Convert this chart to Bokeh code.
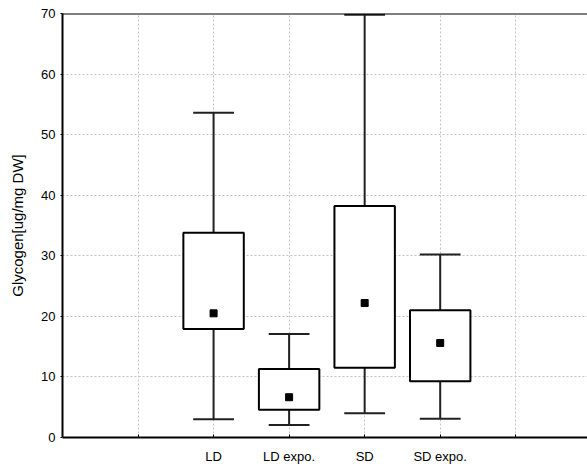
from bokeh.plotting import figure
from bokeh.models import FixedTicker, Span
from bokeh.embed import file_html
from bokeh.resources import INLINE

categories = ["LD", "LD expo.", "SD", "SD expo."]
whisker_low = [3.0, 2.05, 4.0, 3.1]
q1 = [17.9, 4.6, 11.5, 9.3]
median = [20.5, 6.65, 22.2, 15.6]
q3 = [33.8, 11.3, 38.2, 21.0]
whisker_high = [53.6, 17.1, 69.8, 30.2]
y_ticks = [0, 10, 20, 30, 40, 50, 60, 70]

FONT = "Liberation Sans"
xs = [i + 2 for i in range(len(categories))]

p = figure(width=587, height=470, output_backend="svg", toolbar_location=None,
           x_range=(0, 6.95), y_range=(0, 70),
           min_border_left=62, min_border_right=0, min_border_top=13, min_border_bottom=33)
p.outline_line_color = None
p.background_fill_color = "white"

# whiskers
p.segment(x0=xs, y0=whisker_low, x1=xs, y1=q1, line_color="#202020", line_width=2)
p.segment(x0=xs, y0=q3, x1=xs, y1=whisker_high, line_color="#202020", line_width=2)
# caps
cw = 0.27
p.segment(x0=[x - cw for x in xs], y0=whisker_low, x1=[x + cw for x in xs], y1=whisker_low,
          line_color="#202020", line_width=2)
p.segment(x0=[x - cw for x in xs], y0=whisker_high, x1=[x + cw for x in xs], y1=whisker_high,
          line_color="#202020", line_width=2)
# boxes
p.vbar(x=xs, width=0.8, bottom=q1, top=q3, fill_color="white", line_color="black", line_width=2)
# medians
p.scatter(x=xs, y=median, marker="square", size=7, fill_color="black", line_color="black")

p.add_layout(Span(location=70, dimension="width", line_color="black", line_width=2))

p.xaxis.ticker = FixedTicker(ticks=[1, 2, 3, 4, 5, 6])
p.xaxis.major_label_overrides = {1: "", 6: "", **{x: c for x, c in zip(xs, categories)}}
p.yaxis.ticker = FixedTicker(ticks=y_ticks)
p.yaxis.axis_label = "Glycogen[ug/mg DW]"

for ax in (p.xaxis[0], p.yaxis[0]):
    ax.axis_line_color = "black"
    ax.axis_line_width = 2
    ax.major_tick_line_color = "black"
    ax.minor_tick_line_color = None
    ax.major_label_text_font = FONT
    ax.major_label_text_font_size = "13px"
    ax.major_label_text_color = "black"
    ax.axis_label_text_font = FONT
    ax.axis_label_text_font_size = "15px"
    ax.axis_label_text_font_style = "normal"
    ax.axis_label_text_color = "black"

p.xaxis.major_tick_in = 3
p.xaxis.major_tick_out = 0
p.xaxis.major_label_standoff = 11
p.yaxis.major_tick_in = 0
p.yaxis.major_tick_out = 2
p.yaxis.major_label_standoff = 5
p.yaxis.axis_label_standoff = 12

p.xgrid.ticker = FixedTicker(ticks=[1, 2, 3, 4, 5, 6])
p.ygrid.ticker = FixedTicker(ticks=[10, 20, 30, 40, 50, 60])
for g in (p.xgrid[0], p.ygrid[0]):
    g.grid_line_color = "#c4c4c4"
    g.grid_line_dash = "2 2"
    g.grid_line_width = 1

open("out.html", "w").write(file_html(p, INLINE))
